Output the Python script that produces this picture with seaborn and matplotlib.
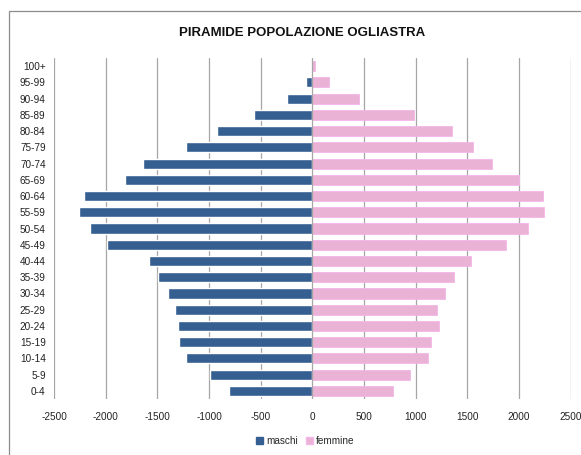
import matplotlib.pyplot as plt
import matplotlib.patches as mpatches
import pandas as pd
import seaborn as sns

# ── Data ────────────────────────────────────────────────────────────────────
age_groups = ["100+", "95-99", "90-94", "85-89", "80-84", "75-79", "70-74",
              "65-69", "60-64", "55-59", "50-54", "45-49", "40-44", "35-39",
              "30-34", "25-29", "20-24", "15-19", "10-14", "5-9", "0-4"]
maschi = [6, 58, 245, 568, 923, 1226, 1642, 1813, 2207, 2255, 2149,
          1988, 1584, 1494, 1394, 1326, 1300, 1288, 1226, 994, 810]
femmine = [29, 162, 455, 981, 1349, 1559, 1742, 2001, 2230, 2243, 2091,
           1875, 1536, 1369, 1288, 1204, 1226, 1152, 1117, 949, 778]
x_ticks = [-2500, -2000, -1500, -1000, -500, 0, 500, 1000, 1500, 2000, 2500]

_BLUE = "#355E91"
_PINK = "#EAB2D4"
_PINK_EDGE = "#F5B6EA"
_GRID = "#A6A6A6"

sns.set_style("white")
plt.rcParams["font.family"] = ["Liberation Sans", "DejaVu Sans"]

df = pd.DataFrame({"eta": age_groups,
                   "maschi": [-v for v in maschi],
                   "femmine": femmine})

fig = plt.figure(figsize=(5.81, 4.55), dpi=100)
ax = fig.add_axes([0.093, 0.123, 0.889, 0.7495])

sns.barplot(data=df, y="eta", x="maschi", order=age_groups, orient="h",
            color=_BLUE, width=0.62, saturation=1, ax=ax, zorder=3)
sns.barplot(data=df, y="eta", x="femmine", order=age_groups, orient="h",
            color=_PINK, width=0.62, saturation=1, ax=ax, zorder=3,
            edgecolor=_PINK_EDGE, linewidth=0.6)

ax.set_xlim(-2500, 2500)
ax.set_ylim(len(age_groups) - 0.5, -0.5)
ax.set_xticks(x_ticks)
ax.set_xticklabels([str(t) for t in x_ticks])
ax.set_xlabel("")
ax.set_ylabel("")
for t in x_ticks:
    if t != 0:
        ax.axvline(t, color=_GRID, linewidth=0.9, zorder=1)
ax.axvline(0, color=_GRID, linewidth=0.9, zorder=4)
for s in ax.spines.values():
    s.set_visible(False)
ax.tick_params(axis="x", length=0, pad=9, labelsize=7.2, colors="#222222")
ax.tick_params(axis="y", length=0, pad=6, labelsize=7.2, colors="#222222")

# outer chart border
fig.patches.append(mpatches.Rectangle((9 / 581, -0.1), 1.2, 1 - 10.5 / 455 + 0.1,
                                      transform=fig.transFigure, fill=False,
                                      edgecolor="#8C8C8C", linewidth=0.9))

fig.text(0.52, 1 - 33 / 455, "PIRAMIDE POPOLAZIONE OGLIASTRA", ha="center",
         va="center", fontsize=9.5, fontweight="bold", color="#111111")

handles = [mpatches.Patch(color=_BLUE, label="maschi"),
           mpatches.Patch(facecolor=_PINK, edgecolor=_PINK_EDGE, label="femmine")]
fig.legend(handles=handles, loc="center", bbox_to_anchor=(0.525, 1 - 441 / 455),
           ncol=2, frameon=False, fontsize=7.2, handlelength=0.7,
           handleheight=0.7, handletextpad=0.3, columnspacing=0.8)

fig.savefig("out.png", dpi=100)
plt.close(fig)
